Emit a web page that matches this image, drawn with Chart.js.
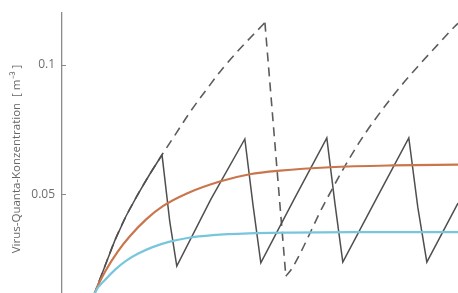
<!DOCTYPE html>
<html><head><meta charset="utf-8">
<script src="https://cdn.jsdelivr.net/npm/chart.js@4"></script>
<style>html,body{margin:0;padding:0;background:#fff;overflow:hidden}</style>
</head><body>
<canvas id="c" width="458" height="293"></canvas>
<script>
// y axis ticks and title
const yTickValues = [0.05, 0.1];
const yTickLabels = ['0.05', '0.1'];
const yTitle = 'Virus-Quanta-Konzentration  [ m\u207B\u00B3 ]';

// time (min) and values
// solid grey: periodic airing
const sawT = [0, 2.4, 5, 7.3, 10, 12.9, 15.8, 18.8, 20.7, 22.4, 30.7, 39.0, 41.0, 42.9, 51.0, 59.0, 61.0, 62.9, 71.0, 79.0, 81.2, 83.4, 91.0];
const sawV = [0, 0.012, 0.0229, 0.0323, 0.0416, 0.0500, 0.0578, 0.0653, 0.0394, 0.0224, 0.0481, 0.0714, 0.0459, 0.0236, 0.0481, 0.0718, 0.0463, 0.0239, 0.0481, 0.0718, 0.045, 0.0239, 0.0467];

// dashed grey: single airing (rise, drop, rise)
const dashRise1T = [0, 2.4, 5, 7.3, 10, 12.9, 15.8, 18.8, 22, 25.6, 29.8, 33.7, 37.8, 42.2, 43.9];
const dashRise1V = [0, 0.012, 0.0229, 0.0323, 0.0416, 0.0500, 0.0578, 0.0653, 0.0730, 0.0817, 0.0908, 0.0988, 0.1062, 0.1135, 0.1163];
const dashDropT = [43.9, 49.0];
const dashDropV = [0.1163, 0.0185];
const dashRise2T = [49.0, 50.5, 58.5, 66.6, 75.1, 81.0, 85.9, 90.2, 91.0];
const dashRise2V = [0.0185, 0.0215, 0.0468, 0.0693, 0.0880, 0.0990, 0.1075, 0.1148, 0.1160];

// orange and blue: steady ventilation
const orangeT = [0, 2.4, 5, 8, 11, 15, 19, 25, 32.9, 40.2, 47.6, 59.8, 75, 91];
const orangeV = [0, 0.012, 0.0205, 0.0280, 0.0340, 0.0405, 0.0455, 0.0505, 0.0550, 0.0578, 0.0592, 0.0605, 0.0612, 0.0615];

const blueT = [0, 2.4, 5, 7.5, 10, 13, 16.5, 20.7, 25, 31.2, 40, 50, 65, 91];
const blueV = [0, 0.012, 0.0172, 0.0212, 0.0244, 0.0272, 0.0297, 0.0318, 0.0332, 0.0343, 0.0350, 0.0353, 0.0355, 0.0355];

const pts = (t, v) => t.map((x, i) => ({x: x, y: v[i]}));

const axisDecor = {
  id: 'axisDecor',
  afterDraw(chart) {
    const s = chart.scales.y, ctx = chart.ctx;
    ctx.save();
    ctx.strokeStyle = '#8a8a8a'; ctx.lineWidth = 1;
    s.ticks.forEach(t => {
      const y = Math.round(s.getPixelForValue(t.value)) + 0.5;
      ctx.beginPath(); ctx.moveTo(s.right, y); ctx.lineTo(s.right + 4, y); ctx.stroke();
    });
    ctx.translate(17, 159);
    ctx.rotate(-Math.PI / 2);
    ctx.fillStyle = '#666';
    ctx.font = '11.5px "Open Sans"';
    ctx.textAlign = 'center';
    ctx.textBaseline = 'middle';
    ctx.fillText(yTitle, 0, 0);
    ctx.restore();
  }
};

const dashStyle = {borderColor: '#5c5c5c', borderWidth: 1.6, borderDash: [9, 6], pointRadius: 0};

new Chart(document.getElementById('c'), {
  type: 'line',
  data: {
    datasets: [
      {data: pts(blueT, blueV), borderColor: '#78c6de', borderWidth: 2.2, pointRadius: 0, cubicInterpolationMode: 'monotone'},
      {data: pts(orangeT, orangeV), borderColor: '#c9764c', borderWidth: 2.2, pointRadius: 0, cubicInterpolationMode: 'monotone'},
      {data: pts(sawT, sawV), borderColor: '#4f4f4f', borderWidth: 1.5, pointRadius: 0, tension: 0},
      Object.assign({data: pts(dashRise1T, dashRise1V), cubicInterpolationMode: 'monotone'}, dashStyle),
      Object.assign({data: pts(dashDropT, dashDropV), tension: 0}, dashStyle),
      Object.assign({data: pts(dashRise2T, dashRise2V), cubicInterpolationMode: 'monotone'}, dashStyle)
    ]
  },
  options: {
    responsive: false,
    animation: false,
    layout: {padding: {top: 13, left: 0, right: 0, bottom: 0}},
    plugins: {legend: {display: false}, tooltip: {enabled: false}},
    scales: {
      x: {type: 'linear', display: false, min: -5.6, max: 91},
      y: {
        min: 0.012, max: 0.12,
        afterBuildTicks: s => { s.ticks = yTickValues.map(v => ({value: v})); },
        afterFit: s => { s.width = 62; s.paddingTop = 0; s.paddingBottom = 0; },
        ticks: {
          padding: 7, color: '#6e6e6e',
          font: {family: 'Open Sans', size: 12},
          callback: (v, i) => yTickLabels[i]
        },
        grid: {drawOnChartArea: false, drawTicks: false},
        border: {display: true, color: '#8a8a8a', width: 1.3},
        title: {display: false}
      }
    }
  },
  plugins: [axisDecor]
});
</script>
</body></html>
